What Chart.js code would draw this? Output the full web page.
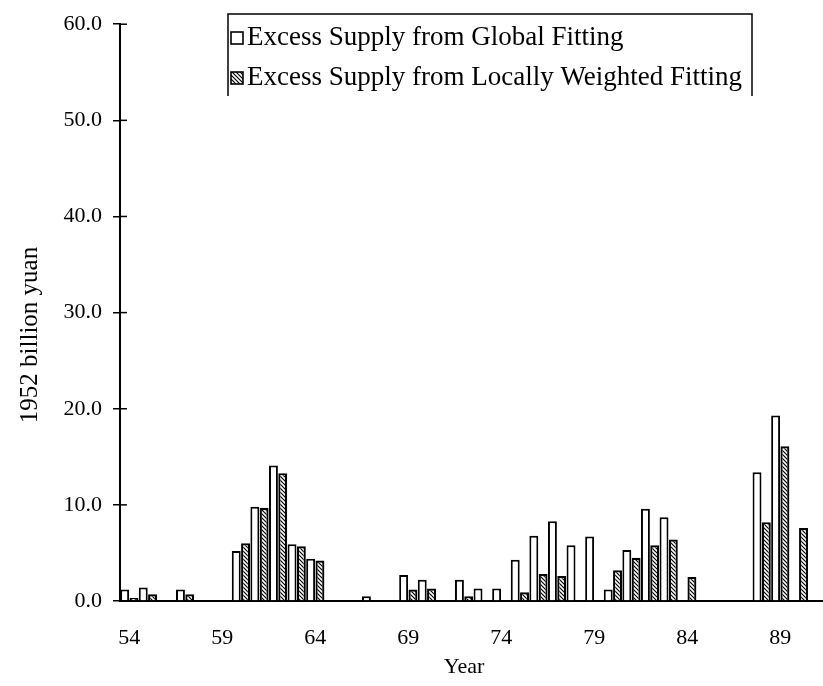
<!DOCTYPE html>
<html>
<head>
<meta charset="utf-8">
<script src="https://cdn.jsdelivr.net/npm/chart.js@4.4.1/dist/chart.umd.min.js"></script>
<style>
  html, body { margin: 0; padding: 0; background: #fff; }
  #wrap { width: 823px; height: 686px; }
</style>
</head>
<body>
<div id="wrap"><canvas id="myChart" width="823" height="686"></canvas></div>
<script>
// years 1954 - 1990, written as two digits like on the axis
const years = [54, 55, 56, 57, 58, 59, 60, 61, 62, 63, 64, 65, 66, 67, 68, 69, 70, 71, 72,
               73, 74, 75, 76, 77, 78, 79, 80, 81, 82, 83, 84, 85, 86, 87, 88, 89, 90];
// excess supply, 1952 billion yuan (null = no bar)
const globalFit = [1.2, 1.4, null, 1.2, null, null, 5.2, 9.8, 14.1, 5.9, 4.4, null, null, 0.5, null, 2.7, 2.2, null, 2.2,
                   1.3, 1.3, 4.3, 6.8, 8.3, 5.8, 6.7, 1.2, 5.3, 9.6, 8.7, null, null, null, null, 13.4, 19.3, null];
const localFit = [0.3, 0.7, null, 0.7, null, null, 6.0, 9.7, 13.3, 5.7, 4.2, null, null, null, null, 1.2, 1.3, null, 0.5,
                  null, null, 0.9, 2.8, 2.6, null, null, 3.2, 4.5, 5.8, 6.4, 2.5, null, null, null, 8.2, 16.1, 7.6];
const tickYears = [54, 59, 64, 69, 74, 79, 84, 89];
const seriesNames = ["Excess Supply from Global Fitting", "Excess Supply from Locally Weighted Fitting"];
const yTitle = "1952 billion yuan";
const xTitle = "Year";

const FONT = "'Liberation Serif', 'Times New Roman', serif";

//Hatch pattern for the locally weighted bars
function makeHatch() {
    const c = document.createElement('canvas');
    c.width = 4;
    c.height = 4;
    const g = c.getContext('2d');
    g.fillStyle = '#fff';
    g.fillRect(0, 0, 4, 4);
    g.strokeStyle = '#000';
    g.lineWidth = 1.2;
    g.beginPath();
    g.moveTo(-1, -1); g.lineTo(5, 5);
    g.moveTo(3, -1); g.lineTo(5, 1);
    g.moveTo(-1, 3); g.lineTo(1, 5);
    g.stroke();
    return g.createPattern(c, 'repeat');
}
const hatch = makeHatch();

//Draws the things chart.js can't place the way the picture has them
const paperPlugin = {
    id: 'paper',
    afterDraw(chart) {
        const ctx = chart.ctx;
        const area = chart.chartArea;
        const y = chart.scales.y;
        ctx.save();
        ctx.strokeStyle = '#000';
        ctx.fillStyle = '#000';

        //inner half of the y tick marks
        ctx.lineWidth = 1.5;
        y.ticks.forEach((t) => {
            const py = y.getPixelForValue(t.value);
            ctx.beginPath();
            ctx.moveTo(area.left, py);
            ctx.lineTo(area.left + 7, py);
            ctx.stroke();
        });

        //baseline runs on a little past the last year
        ctx.lineWidth = 2;
        ctx.beginPath();
        ctx.moveTo(area.right - 1, area.bottom);
        ctx.lineTo(chart.width, area.bottom);
        ctx.stroke();

        //y axis title
        ctx.save();
        ctx.translate(30, 335);
        ctx.rotate(-Math.PI / 2);
        ctx.font = '25px ' + FONT;
        ctx.textAlign = 'center';
        ctx.textBaseline = 'middle';
        ctx.fillText(yTitle, 0, 0);
        ctx.restore();

        //legend box (open at the bottom like the original)
        ctx.lineWidth = 1.5;
        ctx.beginPath();
        ctx.moveTo(228, 96);
        ctx.lineTo(228, 14);
        ctx.lineTo(752, 14);
        ctx.lineTo(752, 96);
        ctx.stroke();

        const rows = [38, 78];
        ctx.font = '27px ' + FONT;
        ctx.textAlign = 'left';
        ctx.textBaseline = 'middle';
        rows.forEach((ry, i) => {
            ctx.fillStyle = i === 0 ? '#fff' : hatch;
            ctx.fillRect(231, ry - 6, 12, 12);
            ctx.lineWidth = 1.6;
            ctx.strokeRect(231, ry - 6, 12, 12);
            ctx.fillStyle = '#000';
            ctx.fillText(seriesNames[i], 247, ry);
        });
        ctx.restore();
    }
};

const ctx = document.getElementById('myChart');
const myChart = new Chart(ctx, {
    type: 'bar',
    data: {
        labels: years,
        datasets: [
            {
                label: seriesNames[0],
                data: globalFit,
                backgroundColor: '#fff',
                borderColor: '#000',
                borderWidth: 2
            },
            {
                label: seriesNames[1],
                data: localFit,
                backgroundColor: hatch,
                borderColor: '#000',
                borderWidth: 2.2
            }
        ]
    },
    options: {
        responsive: false,
        animation: false,
        layout: { padding: { top: 18, right: 10, left: 0, bottom: 0 } },
        datasets: { bar: { barPercentage: 0.96, categoryPercentage: 1.0 } },
        plugins: {
            legend: { display: false },
            tooltip: { enabled: false }
        },
        scales: {
            x: {
                grid: { display: false, drawTicks: false },
                border: { color: '#000', width: 2 },
                ticks: {
                    autoSkip: false,
                    maxRotation: 0,
                    padding: 24,
                    color: '#000',
                    font: { family: FONT, size: 22 },
                    callback: function(v, i) {
                        return tickYears.includes(years[i]) ? String(years[i]) : '';
                    }
                },
                title: {
                    display: true,
                    text: xTitle,
                    color: '#000',
                    font: { family: FONT, size: 22 },
                    padding: { top: 0, bottom: 6 }
                },
                afterFit(scale) { scale.height = 85; }
            },
            y: {
                min: 0,
                max: 60,
                ticks: {
                    stepSize: 10,
                    padding: 11,
                    color: '#000',
                    font: { family: FONT, size: 22 },
                    callback: (v) => v.toFixed(1)
                },
                grid: { drawOnChartArea: false, color: '#000', lineWidth: 1.5, tickLength: 7 },
                border: { color: '#000', width: 2 },
                afterFit(scale) { scale.width = 120; }
            }
        }
    },
    plugins: [paperPlugin]
});
</script>
</body>
</html>
